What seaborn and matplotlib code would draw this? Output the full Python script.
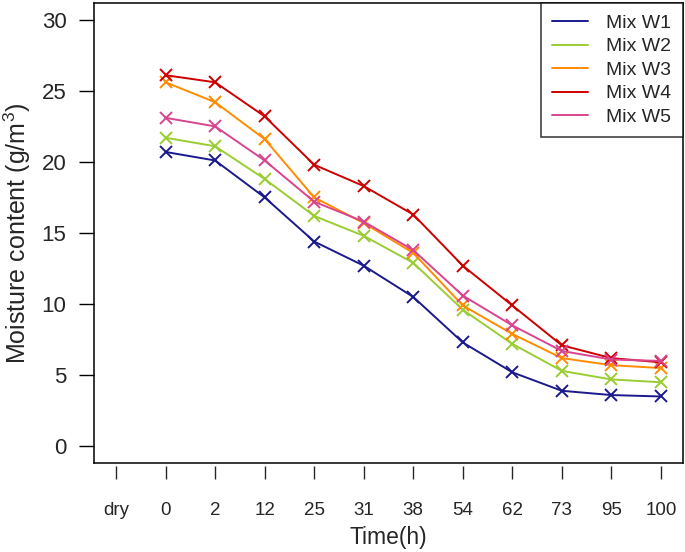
import numpy as np
import pandas as pd
import matplotlib
matplotlib.use("Agg")
import matplotlib.pyplot as plt
from matplotlib.lines import Line2D
import seaborn as sns

# 데이터
time_labels = ["dry", "0", "2", "12", "25", "31", "38", "54", "62", "73", "95", "100"]
mix_names = ["Mix W1", "Mix W2", "Mix W3", "Mix W4", "Mix W5"]
mix_w1 = [20.7, 20.1, 17.5, 14.4, 12.7, 10.5, 7.3, 5.2, 3.9, 3.6, 3.5]
mix_w2 = [21.7, 21.1, 18.8, 16.2, 14.8, 12.9, 9.6, 7.2, 5.3, 4.7, 4.5]
mix_w3 = [25.6, 24.2, 21.6, 17.5, 15.7, 13.6, 9.9, 7.9, 6.2, 5.7, 5.5]
mix_w4 = [26.1, 25.6, 23.2, 19.8, 18.3, 16.3, 12.7, 9.9, 7.1, 6.2, 5.9]
mix_w5 = [23.1, 22.5, 20.1, 17.2, 15.8, 13.8, 10.6, 8.5, 6.7, 6.1, 6.0]
colors = ["#1a1a8c", "#9acd32", "#ff8c00", "#cd0000", "#d9448e"]

# long format (dry 칸은 비워둠 -> index 1부터)
rows = []
for name, vals in zip(mix_names, [mix_w1, mix_w2, mix_w3, mix_w4, mix_w5]):
    for i, v in enumerate(vals):
        rows.append({"idx": i + 1, "value": v, "mix": name})
df = pd.DataFrame(rows)

sns.set_style("ticks")
plt.rcParams["font.family"] = ["Liberation Sans", "DejaVu Sans"]

fig = plt.figure(figsize=(6.85, 5.52), dpi=100)
ax = fig.add_axes([0.1377, 0.1607, 0.8589, 0.8344])

sns.lineplot(data=df, x="idx", y="value", hue="mix", palette=colors,
             marker="x", markersize=9, markeredgewidth=1.4, linewidth=1.4,
             legend=False, ax=ax)
# seaborn은 마커 테두리를 흰색으로 칠하므로 선 색으로 되돌림
for line in ax.lines:
    line.set_markeredgecolor(line.get_color())

ax.set_xlim(-0.44, 11.44)
ax.set_ylim(-1.2, 31.2)
ax.set_yticks(range(0, 31, 5))
ax.tick_params(axis="y", direction="out", length=11, width=1, pad=9,
               labelsize=16, color="black")
for s in ax.spines.values():
    s.set_visible(True)
    s.set_linewidth(1.1)
    s.set_color("black")

# x축 눈금은 상자 아래에 약간 떨어뜨려 그림
ax.set_xticks([])
sec = ax.secondary_xaxis(-0.005)
sec.spines["bottom"].set_visible(False)
sec.set_xticks(range(len(time_labels)))
sec.set_xticklabels(time_labels)
sec.tick_params(axis="x", direction="out", length=9.5, width=1, pad=17,
                labelsize=13.5)
sec.set_xlabel("Time(h)", fontsize=16.5, labelpad=5)

ax.set_xlabel("")
ax.set_ylabel("Moisture content (g/m$^\\mathregular{3}$)", fontsize=18, labelpad=6)

handles = [Line2D([0], [0], color=c, lw=1.4) for c in colors]
leg = ax.legend(handles, mix_names, loc="upper right", bbox_to_anchor=(1, 1),
                borderaxespad=0, fontsize=14, frameon=True, fancybox=False,
                handlelength=1.85, handletextpad=0.9, labelspacing=0.3,
                borderpad=0.6)
leg.get_frame().set_edgecolor("black")
leg.get_frame().set_linewidth(1.1)

plt.savefig("out.png", dpi=100)
